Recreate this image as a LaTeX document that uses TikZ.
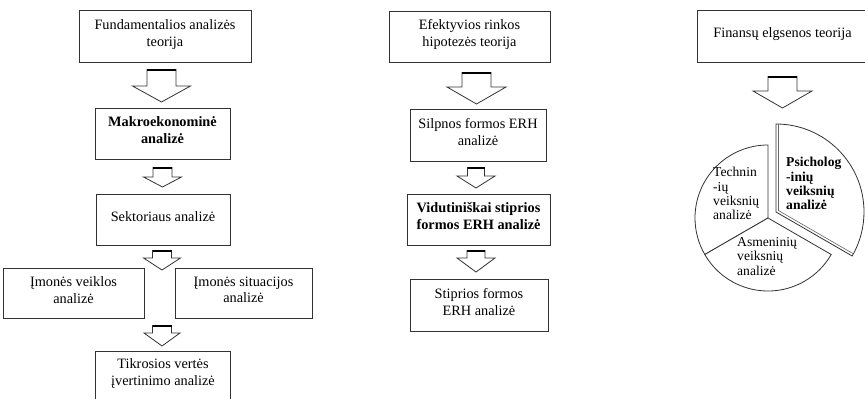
\documentclass[tikz,border=0pt]{standalone}
\usepackage{fontspec}
\setmainfont{Liberation Serif}
\newcommand{\boxFont}[0]{\fontsize{14.3}{16.8}\selectfont}
\newcommand{\pieFont}[0]{\fontsize{13.6}{14.4}\selectfont}
\newcommand{\lineGray}[0]{black!80}
\newcommand{\blockArrow}[6]{%
  \shade[top color=black!55, bottom color=white] (#1-#3,#2) rectangle (#1+#3,#2+5);
  \draw[arrowline] (#1-#3,#2) -- (#1-#3,#4) -- (#1-#5,#4) -- (#1,#6) -- (#1+#5,#4) -- (#1+#3,#4) -- (#1+#3,#2);
  \draw[line width=1.8pt] (#1-#3,#2+0.9) -- (#1+#3,#2+0.9);
}

\begin{document}
\begin{tikzpicture}[x=1pt, y=-1pt]
  \tikzset{box/.style={draw=\lineGray, line width=0.8pt, align=center, inner sep=0pt, font=\boxFont, text depth=6.5pt},
    arrowline/.style={draw=\lineGray, line width=0.8pt, fill=white, line join=miter},
    piece/.style={draw=\lineGray, line width=0.8pt, fill=white},
    pietext/.style={align=left, anchor=north west, inner sep=0pt, font=\pieFont}}
  \useasboundingbox (0,0) rectangle (865,399);
  \clip (0,0) rectangle (865,399);
  % fundamentali analize
  \node[box, minimum width=172, minimum height=52] (fund-1) at (165,36) {Fundamentalios analizės\\teorija};
  \node[box, minimum width=135, minimum height=51] (fund-2) at (162.5,133.5) {\textbf{Makroekonominė}\\\textbf{analizė}};
  \node[box, minimum width=134, minimum height=51] (fund-3) at (163,219.5) {Sektoriaus analizė};
  \node[box, minimum width=141, minimum height=50] (fund-4-1) at (73.5,293) {Įmonės veiklos\\analizė};
  \node[box, minimum width=137, minimum height=50] (fund-4-2) at (243.5,293) {Įmonės situacijos\\analizė};
  \node[box, draw=none, minimum width=134, minimum height=48, anchor=north] (fund-5) at (163,351) {Tikrosios vertės\\įvertinimo analizė};
  \draw[draw=\lineGray, line width=0.8pt] (fund-5.south west) -- (fund-5.north west) -- (fund-5.north east) -- (fund-5.south east);
  \blockArrow{161.5}{69}{14.5}{86}{29}{102}
  \blockArrow{162.5}{167}{9.5}{177}{19}{187}
  \blockArrow{162}{250}{9.5}{258}{18.5}{270}
  \blockArrow{162}{325}{9.5}{333}{18}{346}
  % ERH
  \node[box, minimum width=161, minimum height=51] (erh-1) at (469.5,36.5) {Efektyvios rinkos\\hipotezės teorija};
  \node[box, minimum width=136, minimum height=52] (erh-2) at (478,135) {Silpnos formos ERH\\analizė};
  \node[box, minimum width=143, minimum height=51] (erh-3) at (478.5,219.5) {\textbf{Vidutiniškai stiprios}\\\textbf{formos ERH analizė}};
  \node[box, minimum width=138, minimum height=52] (erh-4) at (479,305) {Stiprios formos\\ERH analizė};
  \blockArrow{476.5}{72}{14.5}{87}{29.5}{104}
  \blockArrow{476}{167}{8.5}{176}{19}{188}
  \blockArrow{476}{250}{9}{258}{19}{272}
  % finansu elgsena
  \node[box, minimum width=171, minimum height=52] (fin-1) at (782.5,36) {Finansų elgsenos teorija};
  \blockArrow{782.5}{76}{14.5}{91}{29.5}{108}
  \begin{scope}[shift={(768,218)}, yscale=-1]
    \draw[piece] (0,0) -- (90:73) arc[start angle=90, end angle=210, radius=73] -- cycle;
    \draw[piece] (0,0) -- (210:73) arc[start angle=210, end angle=330, radius=73] -- cycle;
    \draw[piece] (8,6) -- ++(90:88) arc[start angle=90, end angle=-30, radius=88] -- cycle;
    \draw[draw=black!60, line width=0.6pt] (10.5,7.44) -- ++(90:86.4);
    \draw[draw=black!60, line width=0.6pt] (10.5,7.44) -- ++(-30:86.4);
  \end{scope}
  \node[pietext] (pie-1) at (713,167) {Technin\\-ių\\veiksnių\\analizė};
  \node[pietext, font=\pieFont\bfseries] (pie-2) at (786,157) {Psicholog\\-inių\\veiksnių\\analizė};
  \node[pietext] (pie-3) at (737,237) {Asmeninių\\veiksnių\\analizė};
\end{tikzpicture}
\end{document}
